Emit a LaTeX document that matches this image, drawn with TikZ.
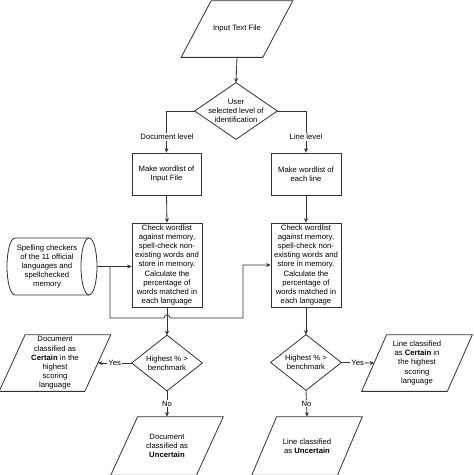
\documentclass[tikz,border=0pt]{standalone}
\usepackage{fontspec}
\setmainfont{Liberation Sans}
\usetikzlibrary{arrows.meta}
\begin{document}
\begin{tikzpicture}[x=1pt,y=-1pt,
  line width=0.7pt,
  every node/.style={font=\fontsize{7.7}{9.2}\selectfont, align=center, inner sep=0pt},
  box/.style={draw=black!80, minimum width=#1, line width=0.8pt},
  hold/.style={minimum width=#1},
  conn/.style={draw=black!80, line width=0.8pt},
  arr/.style={conn, -{Stealth[length=4.5pt,width=4pt]}},
  lbl/.style={fill=white, inner sep=1pt}]
\useasboundingbox (0,0) rectangle (474,475);
\newcommand\drawpara[2]{%
  \draw[conn] ([xshift=-#2/2]#1.south west) -- ([xshift=-#2/2]#1.south east)
    -- ([xshift=#2/2]#1.north east) -- ([xshift=#2/2]#1.north west) -- cycle;}
\newcommand\drawdiam[1]{%
  \draw[conn] (#1.north) -- (#1.east) -- (#1.south) -- (#1.west) -- cycle;}

% input
\node[hold=81pt, minimum height=56pt] (input) at (237,29) {Input Text File};
\drawpara{input}{30}

% decision 1
\node[hold=82pt, minimum height=56pt] (dec) at (236,111) {User\\selected level of\\identification};
\drawdiam{dec}

% make wordlist boxes
\node[box=69pt, minimum height=42pt] (mw1) at (166.5,174) {Make wordlist of\\Input File};
\node[box=70pt, minimum height=42pt] (mw2) at (306,174) {Make wordlist of\\each line};

% check boxes
\node[box=70pt, minimum height=84pt] (cw1) at (167,265) {Check wordlist\\against memory,\\spell-check non-\\existing words and\\store in memory.\\Calculate the\\percentage of\\words matched in\\each language};
\node[box=70pt, minimum height=84pt] (cw2) at (306,265) {Check wordlist\\against memory,\\spell-check non-\\existing words and\\store in memory.\\Calculate the\\percentage of\\words matched in\\each language};

% cylinder
\node[hold=100pt, minimum height=57pt] (cyl) at (47,266.5) {Spelling checkers\\of the 11 official\\languages and\\spellchecked\\memory};
\draw[conn] (15,238) -- (89,238) arc[start angle=-90,end angle=90,x radius=8,y radius=28.5]
  -- (15,295) arc[start angle=90,end angle=270,x radius=8,y radius=28.5];
\draw[conn] (89,238) arc[start angle=-90,end angle=-270,x radius=8,y radius=28.5];

% decisions 2
\node[hold=70pt, minimum height=55pt] (dl) at (167,363) {Highest \% >\\benchmark};
\drawdiam{dl}
\node[hold=70pt, minimum height=55pt] (dr) at (306,362.5) {Highest \% >\\benchmark};
\drawdiam{dr}

% outcome parallelograms
\node[hold=85pt, minimum height=56pt] (cl) at (55,363) {Document\\classified as\\\textbf{Certain} in the\\highest\\scoring\\language};
\drawpara{cl}{26}
\node[hold=85pt, minimum height=56pt] (cr) at (417,363) {Line classified\\as \textbf{Certain} in\\the highest\\scoring\\language};
\drawpara{cr}{25}
\node[hold=85pt, minimum height=58pt] (ul) at (167,446) {Document\\classified as\\\textbf{Uncertain}};
\drawpara{ul}{27}
\node[hold=85pt, minimum height=58pt] (ur) at (307,446) {Line classified\\as \textbf{Uncertain}};
\drawpara{ur}{25}

% connectors
\draw[arr] (input.south) -- (dec.north);
\draw[arr] (dec.west) -| (mw1.north);
\draw[arr] (dec.east) -| (mw2.north);
\node[lbl] at (167,137) {Document level};
\node[lbl] at (306,137) {Line level};
\draw[arr] (mw1.south) -- (cw1.north);
\draw[arr] (mw2.south) -- (cw2.north);
\draw[arr] (cw1.south) -- (dl.north);
\draw[arr] (cw2.south) -- (dr.north);

\coordinate (j1) at (110,266.5);
\coordinate (j2) at (110,318);
\coordinate (j3) at (243,318);
\coordinate (j4) at (243,265);
\draw[arr] (cyl.east) -- (cyl.east -| cw1.west);
\draw[arr] (j1) -- (j2) -- (164,318) arc[start angle=180,end angle=360,radius=3] -- (j3) -- (j4) -- (cw2.west);

\draw[arr] (dl.west) -- node[lbl]{Yes} (cl.east);
\draw[arr] (dr.east) -- node[lbl]{Yes} (cr.west);
\draw[arr] (dl.south) -- node[lbl]{No} (ul.north);
\draw[arr] (dr.south) -- node[lbl]{No} (ur.north);
\end{tikzpicture}
\end{document}
